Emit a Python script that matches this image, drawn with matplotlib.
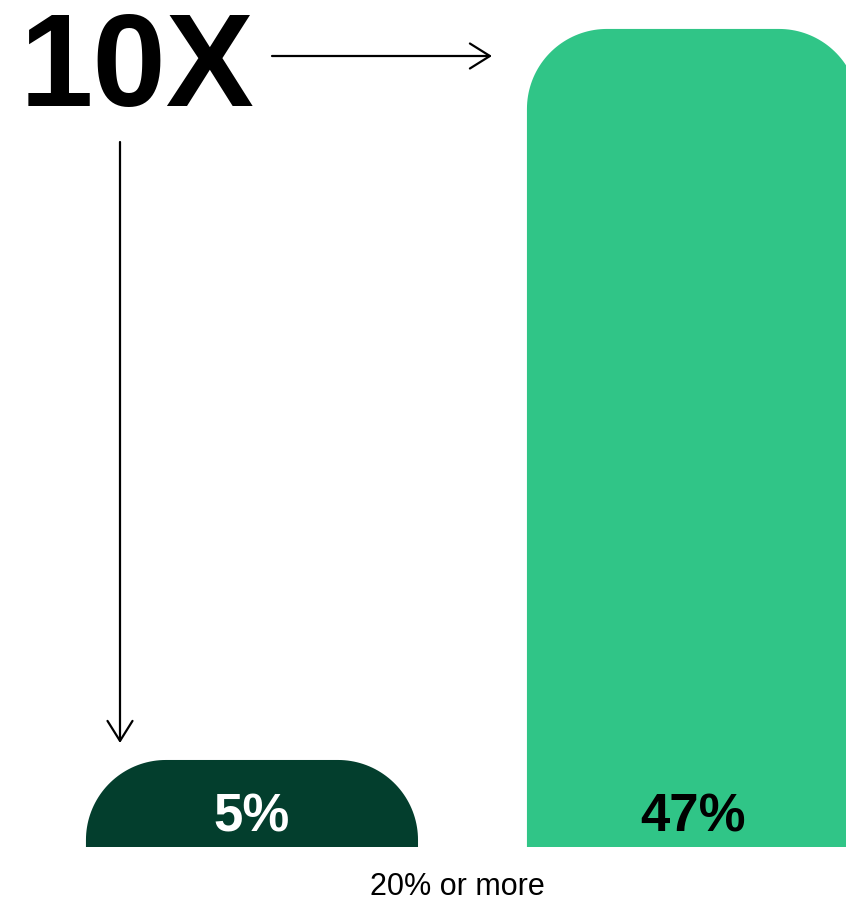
import matplotlib.pyplot as plt
import numpy as np
from matplotlib.patches import Polygon

plt.rcParams["font.family"] = ["Liberation Sans", "DejaVu Sans"]

categories = ['20% or more']
values = [5, 47]
bar_labels = ['5%', '47%']
bar_colors = ['#033E2D', '#30C587']
label_colors = ['white', 'black']
headline = '10X'

W, H = 846, 903
fig = plt.figure(figsize=(W / 100, H / 100), dpi=100)
ax = fig.add_axes([0, 55 / H, 1, 848 / H])
ax.set_xlim(-0.5714, 1.347)
ax.set_ylim(0, 48.72)

# px per data unit, used for the rounded corners
px_x = W / (ax.get_xlim()[1] - ax.get_xlim()[0])
px_y = 848 / (ax.get_ylim()[1] - ax.get_ylim()[0])
radius_px = 80

positions = np.arange(len(values))
bars = ax.bar(positions, values, width=0.753, color=bar_colors)

for rect, col in zip(bars, bar_colors):
    x0, w, h = rect.get_x(), rect.get_width(), rect.get_height()
    rect.set_visible(False)
    rx = min(radius_px / px_x, w / 2)
    ry = min(radius_px / px_y, h)
    t = np.linspace(0, np.pi / 2, 40)
    # right corner then left corner
    right = np.column_stack([x0 + w - rx + rx * np.cos(t), h - ry + ry * np.sin(t)])
    left = np.column_stack([x0 + rx - rx * np.cos(t[::-1]), h - ry + ry * np.sin(t[::-1])])
    pts = np.vstack([[x0 + w, 0], right, left, [x0, 0]])
    ax.add_patch(Polygon(pts, closed=True, facecolor=col, edgecolor='none'))

for pos, lab, lc in zip(positions, bar_labels, label_colors):
    ax.text(pos, 0.95, lab, ha='center', va='baseline', fontsize=38,
            fontweight='bold', color=lc)

ax.set_xticks([0.466], categories, fontsize=22)
ax.tick_params(axis='x', length=0, pad=17)
ax.set_yticks([])
for s in ax.spines.values():
    s.set_visible(False)

fig.text(20 / W, (H - 106) / H, headline, fontsize=95, fontweight='bold',
         ha='left', va='baseline')

arrow = dict(arrowstyle='->,head_length=0.4,head_width=0.25', lw=1.6,
             color='black', mutation_scale=36, shrinkA=0, shrinkB=0)
ax.annotate('', xy=(492, H - 57), xytext=(272, H - 57),
            xycoords='figure pixels', textcoords='figure pixels', arrowprops=arrow)
ax.annotate('', xy=(120, H - 744), xytext=(120, H - 143),
            xycoords='figure pixels', textcoords='figure pixels', arrowprops=arrow)

fig.savefig('out.png', dpi=100)
